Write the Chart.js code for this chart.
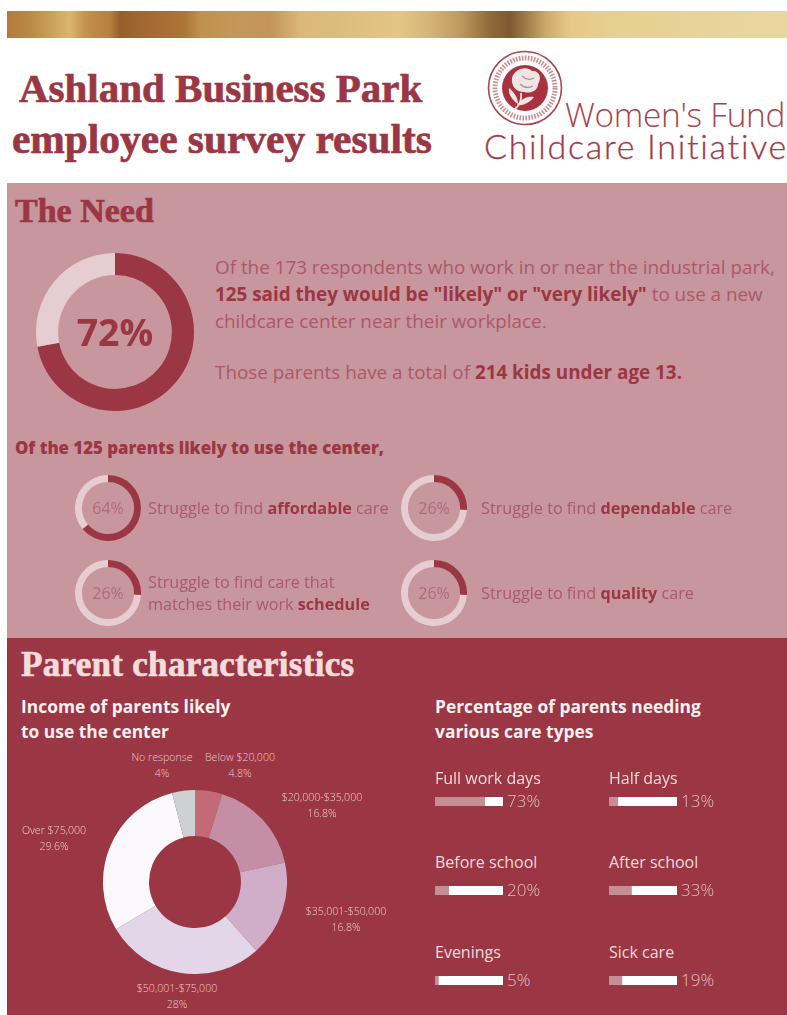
<!DOCTYPE html>
<html>
<head>
<meta charset="utf-8">
<script src="https://cdn.jsdelivr.net/npm/chart.js@4/dist/chart.umd.min.js"></script>
<style>
html,body{margin:0;padding:0;background:#fff;}
#page{position:relative;width:787px;height:1015px;overflow:hidden;background:#fff;font-family:"Open Sans",sans-serif;}
.block{position:absolute;left:7px;width:780px;}
.t{position:absolute;white-space:nowrap;}
canvas{position:absolute;display:block;}
.serif{font-family:"Liberation Serif",serif;font-weight:700;-webkit-text-stroke:.7px currentColor;}
b{font-weight:700;}
</style>
</head>
<body>
<div id="page">
  <div class="block" style="top:11px;height:27px;background:linear-gradient(90deg,#b57a38 0,#b98a45 23px,#c9a058 43px,#dcb56e 63px,#c4924c 78px,#b5803f 103px,#95602c 113px,#a56a33 143px,#ad7538 178px,#bf9150 193px,#c4985a 233px,#c29458 263px,#d9b878 293px,#e3c585 393px,#d4b477 423px,#bf9a60 453px,#8f6a38 483px,#7d5a30 503px,#a8844e 523px,#c9a86a 538px,#e8c888 563px,#e6cf90 603px,#e8d8a0 780px);"></div>

  <div class="t serif" style="left:19px;top:65px;font-size:41px;line-height:46px;color:#9b3644;">Ashland Business Park</div>
  <div class="t serif" style="left:12px;top:116px;font-size:41.4px;line-height:46px;color:#9b3644;">employee survey results</div>

  <svg style="position:absolute;left:484px;top:48px;" width="84" height="84" viewBox="0 0 84 84">
    <circle cx="41" cy="40" r="36.5" fill="#fff" stroke="#a8434f" stroke-width="1.6"/>
    <circle cx="41" cy="40" r="30" fill="none" stroke="#c98d94" stroke-width="5" stroke-dasharray="1.6 1.4"/>
    <circle cx="41" cy="40" r="23" fill="#a8323f"/>
    <path d="M28 30 C31 20 43 18 48 23 C56 22 58 31 54 36 C54 43 46 46 40 44 C32 44 27 38 28 30Z" fill="#efe6e4"/>
    <path d="M38 28 C42 32 46 32 50 30 M36 36 C40 40 45 40 49 38" fill="none" stroke="#b98a8c" stroke-width="1.2"/>
    <path d="M37 45 C38 52 35 58 30 62" fill="none" stroke="#efe6e4" stroke-width="1.8"/>
    <path d="M34 56 C28 52 24 46 25 40 C30 44 34 50 34 56Z" fill="#efe6e4"/>
    <path d="M33 57 C38 50 44 48 50 49 C46 54 40 58 33 57Z" fill="#efe6e4"/>
  </svg>
  <div class="t" style="left:565px;top:100px;font-size:33.4px;line-height:29px;font-weight:300;color:#a8434f;letter-spacing:-.3px;">Women's Fund</div>
  <div class="t" style="left:484px;top:131px;font-family:Lato,sans-serif;font-size:34px;line-height:29px;font-weight:300;color:#a03a48;letter-spacing:1.7px;-webkit-text-stroke:.3px currentColor;">Childcare Initiative</div>

  <div class="block" style="top:183px;height:455px;background:#c8969d;"></div>
  <div class="block" style="top:638px;height:377px;background:#9b3644;"></div>

  <div class="t serif" style="left:15px;top:189px;font-size:34px;line-height:44px;color:#9b3644;">The Need</div>

  <canvas id="needRing" style="left:36px;top:253px;"></canvas>
  <div class="t" style="left:36px;top:307px;width:158px;text-align:center;font-size:37.5px;line-height:50px;font-weight:700;color:#9b3644;" id="needPct"></div>

  <div class="t" style="left:215px;top:254px;font-size:18.85px;line-height:27px;color:#a95a68;">
    Of the 173 respondents who work in or near the industrial park,<br>
    <b style="color:#9b3644">125 said they would be "likely" or "very likely"</b> to use a new<br>
    childcare center near their workplace.
  </div>
  <div class="t" style="left:215px;top:359px;font-size:18.85px;line-height:27px;color:#a95a68;">Those parents have a total of <b style="color:#9b3644">214 kids under age 13.</b></div>

  <div class="t" style="left:15px;top:437px;font-size:16.8px;line-height:22px;font-weight:800;color:#9b3644;">Of the 125 parents likely to use the center,</div>

  <canvas id="ring0" style="left:75px;top:475px;"></canvas>
  <canvas id="ring1" style="left:401px;top:475px;"></canvas>
  <canvas id="ring2" style="left:75px;top:560px;"></canvas>
  <canvas id="ring3" style="left:401px;top:560px;"></canvas>
  <div class="t ringpct" style="left:75px;top:498px;width:66px;text-align:center;font-size:16px;line-height:20px;color:#b06a78;"></div>
  <div class="t ringpct" style="left:401px;top:498px;width:66px;text-align:center;font-size:16px;line-height:20px;color:#b06a78;"></div>
  <div class="t ringpct" style="left:75px;top:583px;width:66px;text-align:center;font-size:16px;line-height:20px;color:#b06a78;"></div>
  <div class="t ringpct" style="left:401px;top:583px;width:66px;text-align:center;font-size:16px;line-height:20px;color:#b06a78;"></div>

  <div class="t" style="left:148px;top:497px;font-size:16.2px;line-height:22px;color:#a95a68;">Struggle to find <b style="color:#9b3644">affordable</b> care</div>
  <div class="t" style="left:481px;top:497px;font-size:16.2px;line-height:22px;color:#a95a68;">Struggle to find <b style="color:#9b3644">dependable</b> care</div>
  <div class="t" style="left:148px;top:571px;font-size:16.2px;line-height:22px;color:#a95a68;">Struggle to find care that<br>matches their work <b style="color:#9b3644">schedule</b></div>
  <div class="t" style="left:481px;top:582px;font-size:16.2px;line-height:22px;color:#a95a68;">Struggle to find <b style="color:#9b3644">quality</b> care</div>

  <div class="t serif" style="left:21px;top:643px;font-size:35px;line-height:44px;color:#f3dcdc;letter-spacing:.3px;">Parent characteristics</div>

  <div class="t" style="left:21px;top:694px;font-size:17.4px;line-height:25px;font-weight:700;color:#faf0f0;">Income of parents likely<br>to use the center</div>
  <div class="t" style="left:435px;top:694px;font-size:17.4px;line-height:25px;font-weight:700;color:#faf0f0;">Percentage of parents needing<br>various care types</div>

  <canvas id="incomeRing" style="left:103px;top:790px;"></canvas>
  <div id="incomeLabels"></div>
  <div id="careRows"></div>
</div>
<script>
// Survey figures
const needShare = [72, 28];
const struggleLabels = ["affordable", "dependable", "schedule", "quality"];
const struggleValues = [64, 26, 26, 26];

const incomeLabels = ["Below $20,000", "$20,000-$35,000", "$35,001-$50,000", "$50,001-$75,000", "Over $75,000", "No response"];
const incomeValues = [4.8, 16.8, 16.8, 28, 29.6, 4];
const incomeColors = ["#c26a76", "#c48fa4", "#d0adc8", "#e2d6e8", "#faf8fd", "#cfd0d2"];

const careLabels = ["Full work days", "Half days", "Before school", "After school", "Evenings", "Sick care"];
const careValues = [73, 13, 20, 33, 5, 19];

const DARK = "#9b3644", PALE = "#e6cdd1";
Chart.defaults.animation = false;
Chart.defaults.responsive = false;
Chart.defaults.plugins.legend.display = false;
Chart.defaults.plugins.tooltip.enabled = false;

function ring(id, size, values, colors, cutout) {
  const c = document.getElementById(id);
  c.width = size; c.height = size;
  return new Chart(c, {
    type: "doughnut",
    data: { datasets: [{ data: values, backgroundColor: colors, borderWidth: 0 }] },
    options: { cutout, layout: { padding: 0 } }
  });
}

ring("needRing", 158, needShare, [DARK, PALE], "72%");
document.getElementById("needPct").textContent = needShare[0] + "%";

const pctNodes = document.querySelectorAll(".ringpct");
struggleValues.forEach((v, i) => {
  ring("ring" + i, 66, [v, 100 - v], [DARK, PALE], "79%");
  pctNodes[i].textContent = v + "%";
});

ring("incomeRing", 184, incomeValues, incomeColors, "50%");

// Slice captions around the income ring, same order as the data
const captionSpots = [[240, 749], [322, 789], [346, 903], [177, 980], [54, 822], [162, 749]];
const labelHost = document.getElementById("incomeLabels");
incomeLabels.forEach((name, i) => {
  const d = document.createElement("div");
  d.className = "t";
  d.style.cssText = `left:${captionSpots[i][0] - 70}px;top:${captionSpots[i][1]}px;width:140px;text-align:center;font-size:10.6px;line-height:16px;font-weight:300;color:#ecc9cc;`;
  d.innerHTML = name + "<br>" + incomeValues[i] + "%";
  labelHost.appendChild(d);
});

// Care-type rows: pale share on a white track, two columns by three rows
const colX = [435, 609], rowY = [768, 852, 942], barDY = [29, 34, 34];
const rowHost = document.getElementById("careRows");
careLabels.forEach((name, i) => {
  const col = i % 2, row = Math.floor(i / 2);
  const x = colX[col], y = rowY[row];
  const label = document.createElement("div");
  label.className = "t";
  label.style.cssText = `left:${x}px;top:${y}px;font-size:16px;line-height:20px;color:#f2dadc;`;
  label.textContent = name;
  rowHost.appendChild(label);

  const c = document.createElement("canvas");
  c.width = 68; c.height = 9;
  c.style.left = x + "px";
  c.style.top = (y + barDY[row]) + "px";
  rowHost.appendChild(c);
  new Chart(c, {
    type: "bar",
    data: {
      labels: [name],
      datasets: [
        { data: [careValues[i]], backgroundColor: "#c48e95", borderWidth: 0, barPercentage: 1, categoryPercentage: 1 },
        { data: [100 - careValues[i]], backgroundColor: "#ffffff", borderWidth: 0, barPercentage: 1, categoryPercentage: 1 }
      ]
    },
    options: {
      indexAxis: "y",
      layout: { padding: 0 },
      scales: {
        x: { stacked: true, min: 0, max: 100, display: false },
        y: { stacked: true, display: false }
      }
    }
  });

  const pct = document.createElement("div");
  pct.className = "t";
  pct.style.cssText = `left:${x + 72}px;top:${y + barDY[row] - 6}px;font-size:17px;line-height:20px;font-weight:300;color:#e6bcc0;`;
  pct.textContent = careValues[i] + "%";
  rowHost.appendChild(pct);
});
</script>
</body>
</html>
